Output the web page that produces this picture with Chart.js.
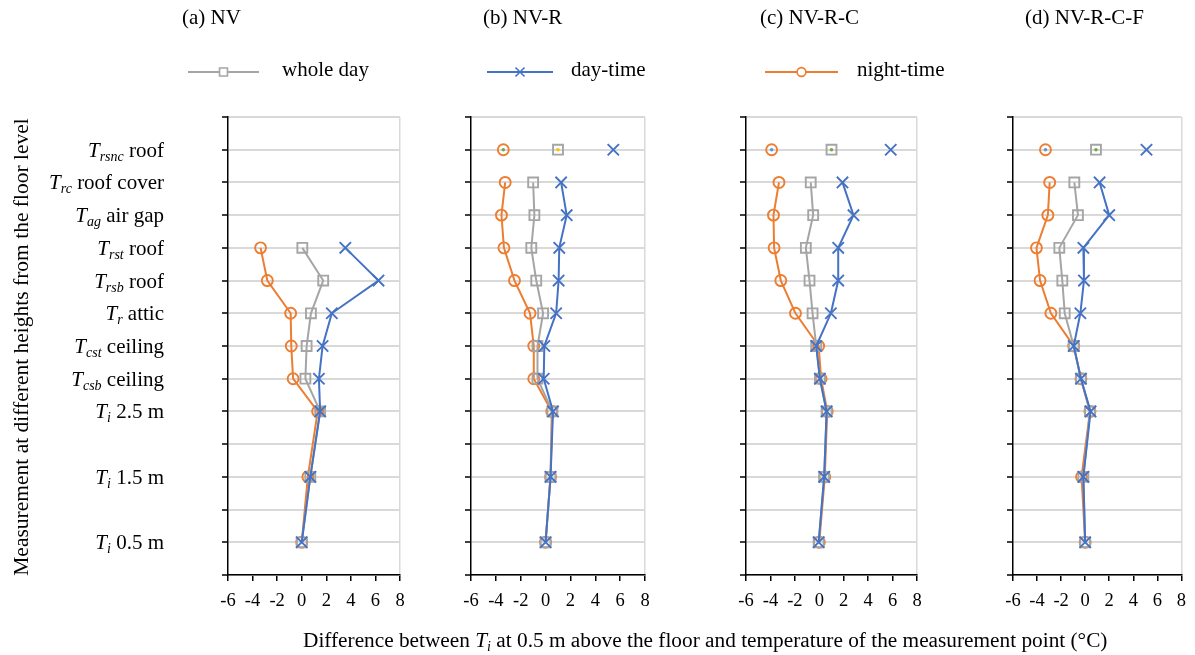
<!DOCTYPE html>
<html>
<head>
<meta charset="utf-8">
<script src="https://cdn.jsdelivr.net/npm/chart.js@4.4.0/dist/chart.umd.min.js"></script>
<style>
body{margin:0;background:#fff;}
#wrap{position:relative;width:1195px;height:655px;}
#wrap canvas{position:absolute;left:0;top:0;}
</style>
</head>
<body>
<div id="wrap">
  <canvas id="c0" width="1195" height="655"></canvas>
  <canvas id="c1" width="1195" height="655"></canvas>
  <canvas id="c2" width="1195" height="655"></canvas>
  <canvas id="c3" width="1195" height="655"></canvas>
</div>
<script>
// rows, top to bottom (position on the 0..14 height axis)
const rowPos = [13, 12, 11, 10, 9, 8, 7, 6, 5, 3, 1];
const rowSub = ['rsnc', 'rc', 'ag', 'rst', 'rsb', 'r', 'cst', 'csb', 'i', 'i', 'i'];
const rowText = ['roof', 'roof cover', 'air gap', 'roof', 'roof', 'attic', 'ceiling', 'ceiling', '2.5 m', '1.5 m', '0.5 m'];

const panelTitles = ['(a) NV', '(b) NV-R', '(c) NV-R-C', '(d) NV-R-C-F'];
const xTicks = [-6, 8]; // min, max

// (a) NV
const nvWhole = [null, null, null, 0.05, 1.75, 0.75, 0.4, 0.3, 1.5, 0.7, 0];
const nvDay   = [null, null, null, 3.55, 6.25, 2.45, 1.7, 1.4, 1.5, 0.7, 0];
const nvNight = [null, null, null, -3.35, -2.8, -0.9, -0.85, -0.7, 1.3, 0.5, 0];
// (b) NV-R
const nvrWhole = [1.0, -1.0, -0.9, -1.15, -0.75, -0.2, -0.65, -0.65, 0.55, 0.4, 0];
const nvrDay   = [5.45, 1.25, 1.7, 1.1, 1.05, 0.85, -0.1, -0.15, 0.6, 0.4, 0];
const nvrNight = [-3.4, -3.25, -3.55, -3.35, -2.5, -1.25, -0.95, -0.95, 0.5, 0.4, 0];
// (c) NV-R-C
const nvrcWhole = [1.0, -0.7, -0.5, -1.1, -0.8, -0.55, -0.25, 0.05, 0.6, 0.4, -0.05];
const nvrcDay   = [5.85, 1.9, 2.8, 1.55, 1.55, 0.95, -0.25, 0.05, 0.6, 0.4, -0.05];
const nvrcNight = [-3.9, -3.3, -3.75, -3.7, -3.15, -1.95, -0.05, 0.15, 0.65, 0.45, 0];
// (d) NV-R-C-F
const nvrcfWhole = [0.9, -0.9, -0.6, -2.15, -1.9, -1.7, -0.95, -0.35, 0.4, -0.15, 0];
const nvrcfDay   = [5.1, 1.2, 2.0, -0.15, -0.1, -0.4, -0.95, -0.35, 0.45, -0.15, 0];
const nvrcfNight = [-3.3, -2.95, -3.1, -4.05, -3.75, -2.85, -0.95, -0.35, 0.4, -0.3, 0];

const FONT = 'Liberation Serif';
const GRAY = '#A5A5A5', BLUE = '#4472C4', ORANGE = '#ED7D31';

// plot area edges of each panel
const plotLeft = [228, 471, 746, 1013];
const plotRight = [400, 645, 917, 1185];
const titleX = [182, 483, 760, 1025];
// small dots seen inside the lone top markers
const topDots = [null, ['#70AD47', '#FFC000'], ['#5B9BD5', '#70AD47'], ['#5B9BD5', '#70AD47']];

const styles = {
  whole: {color: GRAY, pointStyle: 'rect', radius: 7, order: 2},
  day: {color: BLUE, pointStyle: 'crossRot', radius: 8, order: 1},
  night: {color: ORANGE, pointStyle: 'circle', radius: 5.5, order: 3}
};

function seriesSets(vals, st) {
  const top = [], rest = [];
  vals.forEach((v, i) => {
    if (v === null) return;
    const p = {x: v, y: rowPos[i]};
    if (i === 0) top.push(p); else rest.push(p);
  });
  const base = {
    borderColor: st.color, backgroundColor: 'rgba(0,0,0,0)',
    pointStyle: st.pointStyle, pointRadius: st.radius, pointBorderWidth: 1.9,
    pointBorderColor: st.color, pointBackgroundColor: 'rgba(0,0,0,0)',
    borderWidth: 2, tension: 0, order: st.order
  };
  return [
    Object.assign({}, base, {data: rest, showLine: true}),
    Object.assign({}, base, {data: top, showLine: false})
  ];
}

function dotSets(idx, night, whole) {
  const d = topDots[idx];
  if (!d) return [];
  return [
    {data: [{x: night[0], y: rowPos[0]}], pointRadius: 1.8, pointBorderWidth: 0, pointBackgroundColor: d[0], showLine: false, order: 0},
    {data: [{x: whole[0], y: rowPos[0]}], pointRadius: 1.8, pointBorderWidth: 0, pointBackgroundColor: d[1], showLine: false, order: 0}
  ];
}

function richText(ctx, parts, x, y, align) {
  let w = 0;
  parts.forEach(p => { ctx.font = p[1]; w += ctx.measureText(p[0]).width; });
  let cx = align === 'right' ? x - w : (align === 'center' ? x - w / 2 : x);
  ctx.textBaseline = 'alphabetic';
  ctx.textAlign = 'left';
  parts.forEach(p => {
    ctx.font = p[1];
    ctx.fillText(p[0], cx, y + p[2]);
    cx += ctx.measureText(p[0]).width;
  });
}

const textPlugin = {
  id: 'texts',
  afterDraw(chart) {
    const ctx = chart.ctx;
    const y = chart.scales.y;
    ctx.save();
    ctx.fillStyle = '#000';
    // row labels
    rowPos.forEach((p, i) => {
      const py = y.getPixelForValue(p) + 7;
      richText(ctx, [
        ['T', 'italic 21px ' + FONT, 0],
        [rowSub[i], 'italic 14px ' + FONT, 4],
        [' ' + rowText[i], '21px ' + FONT, 0]
      ], 164, py, 'right');
    });
    // panel titles
    ctx.font = '21px ' + FONT;
    ctx.textBaseline = 'middle';
    panelTitles.forEach((t, i) => ctx.fillText(t, titleX[i], 18));
    // legend
    const leg = [
      {x0: 188, x1: 259, tx: 282, label: 'whole day', st: styles.whole},
      {x0: 487, x1: 553, tx: 571, label: 'day-time', st: styles.day},
      {x0: 765, x1: 838, tx: 857, label: 'night-time', st: styles.night}
    ];
    leg.forEach(l => {
      ctx.strokeStyle = l.st.color;
      ctx.lineWidth = 2;
      ctx.beginPath();
      ctx.moveTo(l.x0, 72); ctx.lineTo(l.x1, 72);
      ctx.stroke();
      ctx.fillStyle = '#fff';
      ctx.lineWidth = 1.6;
      Chart.helpers.drawPoint(ctx, {pointStyle: l.st.pointStyle, radius: l.st.radius * 0.8, borderWidth: 1.6, rotation: 0}, (l.x0 + l.x1) / 2, 72);
      ctx.fillStyle = '#000';
      ctx.font = '21px ' + FONT;
      ctx.textBaseline = 'middle';
      ctx.textAlign = 'left';
      ctx.fillText(l.label, l.tx, 70);
    });
    // x-axis title
    ctx.fillStyle = '#000';
    richText(ctx, [
      ['Difference between ', '21.3px ' + FONT, 0],
      ['T', 'italic 21.3px ' + FONT, 0],
      ['i', 'italic 14px ' + FONT, 4],
      [' at 0.5 m above the floor and temperature of the measurement point (°C)', '21.3px ' + FONT, 0]
    ], 303, 647, 'left');
    // y-axis title
    ctx.translate(28, 347);
    ctx.rotate(-Math.PI / 2);
    ctx.font = '21.5px ' + FONT;
    ctx.textAlign = 'center';
    ctx.textBaseline = 'alphabetic';
    ctx.fillText('Measurement at different heights from the floor level', 0, 0);
    ctx.restore();
  }
};

function makeChart(idx, whole, day, night) {
  const datasets = [].concat(
    dotSets(idx, night, whole),
    seriesSets(day, styles.day),
    seriesSets(whole, styles.whole),
    seriesSets(night, styles.night)
  );
  return new Chart('c' + idx, {
    type: 'scatter',
    data: {datasets: datasets},
    options: {
      responsive: false,
      animation: false,
      events: [],
      layout: {padding: {left: plotLeft[idx] - 6, right: 1195 - plotRight[idx], top: 117, bottom: 0}},
      plugins: {legend: {display: false}, tooltip: {enabled: false}},
      scales: {
        x: {
          type: 'linear', min: xTicks[0], max: xTicks[1],
          ticks: {stepSize: 2, color: '#000', font: {family: FONT, size: 18.5}, padding: 9, maxRotation: 0, autoSkip: false},
          grid: {
            color: c => (c.tick && c.tick.value === xTicks[1]) ? '#d9d9d9' : 'rgba(0,0,0,0)',
            lineWidth: 1.5, tickColor: '#000', tickLength: 6, tickWidth: 1.5
          },
          border: {color: '#000', width: 1.5},
          afterFit: s => { s.height = 80; }
        },
        y: {
          type: 'linear', min: 0, max: 14,
          ticks: {stepSize: 1, display: false},
          grid: {color: '#d9d9d9', lineWidth: 2, tickColor: '#000', tickLength: 6, tickWidth: 1.5},
          border: {color: '#000', width: 1.5},
          afterFit: s => { s.width = 6; }
        }
      }
    },
    plugins: idx === 0 ? [textPlugin] : []
  });
}

makeChart(0, nvWhole, nvDay, nvNight);
makeChart(1, nvrWhole, nvrDay, nvrNight);
makeChart(2, nvrcWhole, nvrcDay, nvrcNight);
makeChart(3, nvrcfWhole, nvrcfDay, nvrcfNight);
</script>
</body>
</html>
